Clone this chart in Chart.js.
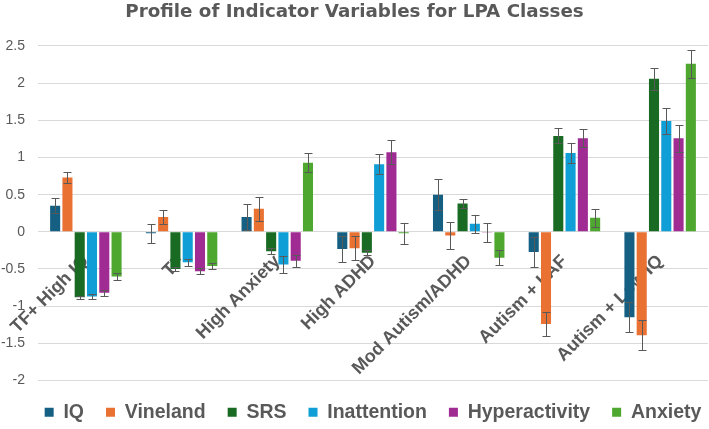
<!DOCTYPE html>
<html>
<head>
<meta charset="utf-8">
<script src="https://cdn.jsdelivr.net/npm/chart.js@4"></script>
<style>
html,body{margin:0;padding:0;background:#fff;}
#wrap{width:709px;height:429px;}
</style>
</head>
<body>
<div id="wrap"><canvas id="c" width="709" height="429"></canvas></div>
<script>
const categories = ["TF+ High IQ", "TF", "High Anxiety", "High ADHD", "Mod Autism/ADHD", "Autism + LAF", "Autism + Low IQ"];
const seriesNames = ["IQ", "Vineland", "SRS", "Inattention", "Hyperactivity", "Anxiety"];
const iqValues = [0.35, -0.02, 0.20, -0.23, 0.50, -0.27, -1.15];
const vinelandValues = [0.73, 0.20, 0.31, -0.22, -0.05, -1.24, -1.39];
const srsValues = [-0.88, -0.50, -0.26, -0.28, 0.38, 1.29, 2.06];
const inattentionValues = [-0.87, -0.41, -0.44, 0.91, 0.11, 1.06, 1.49];
const hyperactivityValues = [-0.82, -0.53, -0.39, 1.07, -0.01, 1.26, 1.26];
const anxietyValues = [-0.60, -0.46, 0.93, -0.02, -0.35, 0.19, 2.26];
const iqErrors = [0.10, 0.13, 0.18, 0.18, 0.21, 0.20, 0.20];
const vinelandErrors = [0.08, 0.09, 0.16, 0.16, 0.18, 0.16, 0.20];
const srsErrors = [0.02, 0.03, 0.04, 0.03, 0.06, 0.10, 0.15];
const inattentionErrors = [0.04, 0.05, 0.11, 0.13, 0.12, 0.14, 0.18];
const hyperactivityErrors = [0.04, 0.04, 0.08, 0.16, 0.13, 0.12, 0.18];
const anxietyErrors = [0.05, 0.04, 0.13, 0.14, 0.10, 0.12, 0.19];
const yTickValues = [-2, -1.5, -1, -0.5, 0, 0.5, 1, 1.5, 2, 2.5];
const yTickLabels = ["-2", "-1.5", "-1", "-0.5", "0", "0.5", "1", "1.5", "2", "2.5"];
const titleText = "Profile of Indicator Variables for LPA Classes";

const colors = ["#156082", "#E97132", "#196B24", "#0F9ED5", "#A02B93", "#4EA72E"];
const allValues = [iqValues, vinelandValues, srsValues, inattentionValues, hyperactivityValues, anxietyValues];
const allErrors = [iqErrors, vinelandErrors, srsErrors, inattentionErrors, hyperactivityErrors, anxietyErrors];

const datasets = seriesNames.map((n, i) => ({
  label: n,
  data: allValues[i],
  errors: allErrors[i],
  backgroundColor: colors[i],
  borderWidth: 0,
  categoryPercentage: 0.77,
  barPercentage: 0.82
}));

const errorBarPlugin = {
  id: 'errorBars',
  afterDatasetsDraw(chart) {
    const ctx = chart.ctx;
    const y = chart.scales.y;
    ctx.save();
    ctx.strokeStyle = '#595959';
    ctx.lineWidth = 1;
    chart.data.datasets.forEach((ds, i) => {
      const meta = chart.getDatasetMeta(i);
      meta.data.forEach((bar, j) => {
        const v = ds.data[j], e = ds.errors[j];
        const x = Math.round(bar.x) + 0.5;
        const y1 = Math.round(y.getPixelForValue(v + e)) + 0.5;
        const y2 = Math.round(y.getPixelForValue(v - e)) + 0.5;
        ctx.beginPath();
        ctx.moveTo(x, y1); ctx.lineTo(x, y2);
        ctx.moveTo(x - 4, y1); ctx.lineTo(x + 4, y1);
        ctx.moveTo(x - 4, y2); ctx.lineTo(x + 4, y2);
        ctx.stroke();
      });
    });
    ctx.restore();
  }
};

// center the legend on the plot area (as the original does)
const legendShiftPlugin = {
  id: 'legendShift',
  afterLayout(chart) {
    const lg = chart.legend, ca = chart.chartArea;
    if (!lg) return;
    const shift = (ca.left + ca.right) / 2 - (lg.left + lg.right) / 2;
    lg.left += shift;
    lg.right += shift;
  }
};

new Chart(document.getElementById('c'), {
  type: 'bar',
  data: { labels: categories, datasets },
  plugins: [errorBarPlugin, legendShiftPlugin],
  options: {
    responsive: false,
    animation: false,
    devicePixelRatio: 1,
    layout: { padding: { left: 1, right: 1, top: 0, bottom: -3 } },
    plugins: {
      title: {
        display: true,
        text: titleText,
        color: '#595959',
        font: { family: 'DejaVu Sans, sans-serif', size: 18.3, weight: 'bold' },
        padding: { top: 1, bottom: 23 }
      },
      legend: {
        position: 'bottom',
        labels: {
          color: '#595959',
          font: { family: 'Liberation Sans, Arial, sans-serif', size: 19.5, weight: 'bold' },
          boxWidth: 9,
          boxHeight: 9,
          padding: 22
        }
      },
      tooltip: { enabled: false }
    },
    scales: {
      x: {
        position: { y: 0 },
        z: 1,
        afterFit(scale) { scale.paddingLeft = 0; scale.paddingRight = 0; },
        grid: { display: false, drawTicks: false },
        border: { display: true, color: '#D9D9D9', width: 1 },
        ticks: {
          autoSkip: false,
          minRotation: 45,
          maxRotation: 45,
          padding: 19,
          labelOffset: 0,
          color: '#595959',
          font: { family: 'Liberation Sans, Arial, sans-serif', size: 18, weight: 'bold' }
        }
      },
      y: {
        min: -2,
        max: 2.5,
        afterBuildTicks(scale) { scale.ticks = yTickValues.map(v => ({ value: v })); },
        afterFit(scale) { scale.width = 37; },
        grid: { color: '#D9D9D9', lineWidth: 1, drawTicks: false },
        border: { display: false },
        ticks: {
          padding: 13,
          color: '#595959',
          font: { family: 'Liberation Sans, Arial, sans-serif', size: 14 },
          callback(v) { return yTickLabels[yTickValues.indexOf(v)]; }
        }
      }
    }
  }
});
</script>
</body>
</html>
